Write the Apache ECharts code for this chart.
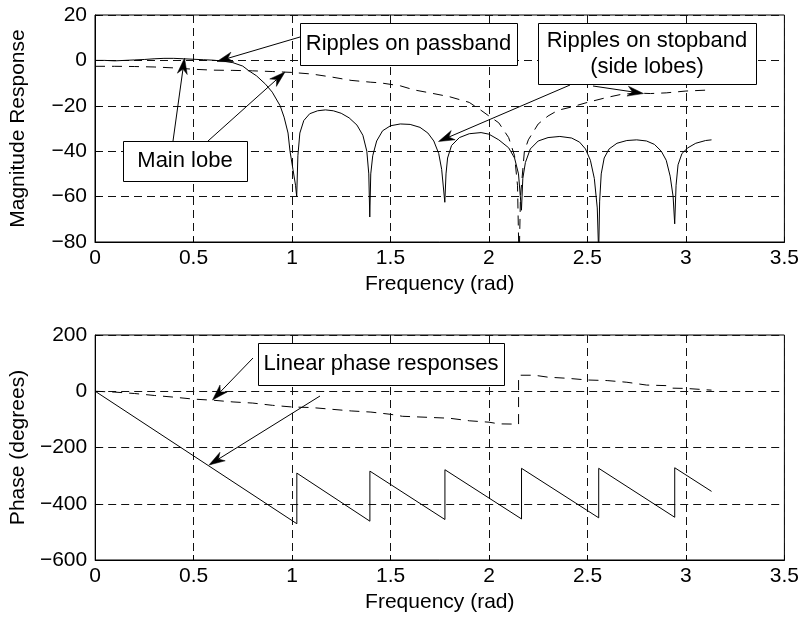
<!doctype html>
<html>
<head>
<meta charset="utf-8">
<title>Magnitude and phase response</title>
<style>
  html, body { margin: 0; padding: 0; background: #fff; }
  #main { width: 802px; height: 619px; }
</style>
</head>
<body>
<div id="main"></div>
<script src="https://cdn.jsdelivr.net/npm/echarts@6/dist/echarts.min.js"></script>
<script>
// values (frequency in rad)
var magSolidFreq = [0, 0.05, 0.1, 0.15, 0.2, 0.25, 0.3, 0.35, 0.4, 0.45, 0.5, 0.55, 0.6, 0.65, 0.7, 0.75, 0.78, 0.82, 0.866, 0.9, 0.94, 0.96, 0.98, 0.99, 1.005, 1.018, 1.024,
  1.03, 1.04, 1.06, 1.09, 1.13, 1.17, 1.21, 1.25, 1.29, 1.33, 1.36, 1.38, 1.39, 1.395,
  1.40, 1.41, 1.43, 1.46, 1.50, 1.55, 1.60, 1.65, 1.69, 1.72, 1.745, 1.76, 1.776,
  1.782, 1.79, 1.81, 1.85, 1.9, 1.96, 2.0, 2.05, 2.1, 2.13, 2.15, 2.165,
  2.172, 2.185, 2.21, 2.25, 2.3, 2.36, 2.42, 2.46, 2.49, 2.515, 2.535, 2.55, 2.557,
  2.562, 2.57, 2.585, 2.61, 2.65, 2.7, 2.75, 2.8, 2.84, 2.875, 2.9, 2.92, 2.935, 2.943,
  2.95, 2.96, 2.98, 3.01, 3.05, 3.1, 3.13];
var magSolid = [0, 0, -0.2, 0, 0.2, 0.4, 0.7, 0.9, 0.9, 0.7, 0.5, 0.3, 0.1, -0.3, -1.0, -2.5, -4.5, -6.8, -10.5, -14, -20, -25, -32, -40, -48, -55, -60,
  -42, -32, -26.5, -23.5, -22.2, -21.8, -22.2, -23.3, -25.3, -28.5, -33, -40, -50, -69,
  -50, -42, -35.5, -31, -28.8, -28, -28.2, -29.5, -32, -35.5, -41, -48, -62.5,
  -50, -43, -37.5, -34, -32.3, -31.8, -32.5, -35, -38.5, -43, -50, -66,
  -52, -45, -39, -35.5, -34, -33.5, -34.2, -36, -39, -44, -52, -65, -85,
  -62, -50, -43, -39, -36.5, -35.3, -35, -35.5, -37, -40, -44, -51, -60, -72,
  -55, -46, -41, -38.5, -36.5, -35.3, -35];

var magDashFreq = [0, 0.1, 0.2, 0.3, 0.4, 0.5, 0.6, 0.7, 0.8, 0.9, 1.0, 1.1, 1.2, 1.3, 1.4, 1.45, 1.55, 1.62, 1.7, 1.8, 1.9, 1.96, 2.0, 2.05, 2.1, 2.13, 2.145, 2.153,
  2.16, 2.18, 2.2, 2.25, 2.3, 2.35, 2.42, 2.5, 2.6, 2.67, 2.75, 2.82, 2.9, 3.0, 3.13];
var magDash = [-2.6, -2.6, -2.7, -2.9, -3.3, -3.9, -4.3, -4.4, -4.6, -4.9, -5.3, -6, -7.3, -8.8, -9.6, -9.9, -11.2, -13, -14.3, -16, -18.5, -22, -24.5, -27.5, -34, -42, -55, -90,
  -60, -40, -35, -28, -24.5, -22, -20.5, -18.5, -16.3, -15, -14.4, -14.6, -14.3, -13.5, -13];

var phaseSolidFreq = [0, 1.024, 1.024, 1.395, 1.395, 1.776, 1.776, 2.165, 2.165, 2.557, 2.557, 2.943, 2.943, 3.13];
var phaseSolid = [0, -471, -291, -462, -284, -456, -279, -454, -274, -450, -274, -448, -272, -356];

var phaseDashFreq = [0, 0.1, 0.2, 0.3, 0.4, 0.5, 0.6, 0.7, 0.8, 0.9, 1.0, 1.1, 1.2, 1.3, 1.4, 1.5, 1.56, 1.7, 1.8, 1.9, 2.0, 2.05, 2.15,
  2.15, 2.23, 2.3, 2.4, 2.5, 2.6, 2.7, 2.8, 2.9, 2.93, 3.0, 3.13];
var phaseDash = [0, -3, -8, -15, -21, -28, -32, -38, -42, -50, -56, -58, -64, -70, -74, -82, -89, -93, -96, -105, -110, -116, -117,
  57, 57, 50, 46, 40, 38, 32, 22, 20, 11, 10, 4];

function pairs(xs, ys) {
  return xs.map(function (x, i) { return [x, ys[i]]; });
}

var font = '"Liberation Sans", Arial, Helvetica, sans-serif';
var txt = { color: '#000', fontFamily: font, fontSize: 21 };
var minus = function (v) { return String(v).replace('-', '\u2212'); };

function xAx(gi) {
  return {
    type: 'value', gridIndex: gi, min: 0, max: 3.5, interval: 0.5,
    name: 'Frequency (rad)', nameLocation: 'middle', nameGap: 32,
    nameTextStyle: txt,
    axisLine: { onZero: false, lineStyle: { color: '#000', width: 1 } },
    axisTick: { inside: true, length: 5, lineStyle: { color: '#000' } },
    axisLabel: Object.assign({ margin: 6, formatter: minus }, txt),
    splitLine: { show: true, lineStyle: { color: '#111', type: [8, 5], width: 1 } }
  };
}
function yAx(gi, min, max, step, name) {
  return {
    type: 'value', gridIndex: gi, min: min, max: max, interval: step,
    name: name, nameLocation: 'middle', nameGap: 66, nameRotate: 90,
    nameTextStyle: txt,
    axisLine: { show: true, onZero: false, lineStyle: { color: '#000', width: 1 } },
    axisTick: { show: true, inside: true, length: 5, lineStyle: { color: '#000' } },
    axisLabel: Object.assign({ margin: 8, formatter: minus }, txt),
    splitLine: { show: true, lineStyle: { color: '#111', type: [8, 5], width: 1 } }
  };
}
function line(xi, data, dashed) {
  return {
    type: 'line', xAxisIndex: xi, yAxisIndex: xi, data: data,
    showSymbol: false, symbol: 'none', silent: true, animation: false,
    lineStyle: { color: '#000', width: 1, type: dashed ? [10, 7] : 'solid' }
  };
}

// annotation boxes and arrows (pixels)
function box(x, y, w, h, lines, lh) {
  var els = [{ type: 'rect', shape: { x: x + 0.5, y: y + 0.5, width: w, height: h },
    style: { fill: '#fff', stroke: '#000', lineWidth: 1 }, z: 100 }];
  var cy = y + h / 2 - (lines.length - 1) * lh / 2;
  lines.forEach(function (t, i) {
    els.push({ type: 'text', z: 101, style: {
      text: t, x: x + w / 2, y: cy + i * lh, fill: '#000',
      font: '22px ' + font, textAlign: 'center', textVerticalAlign: 'middle',
      align: 'center', verticalAlign: 'middle' } });
  });
  return els;
}
function arrow(x1, y1, x2, y2) {
  var dx = x2 - x1, dy = y2 - y1, d = Math.sqrt(dx * dx + dy * dy);
  var ux = dx / d, uy = dy / d, L = 16, W = 5;
  var bx = x2 - ux * L, by = y2 - uy * L;
  var nx = x2 - ux * L * 0.7, ny = y2 - uy * L * 0.7;
  return [
    { type: 'line', z: 100, shape: { x1: x1, y1: y1, x2: nx, y2: ny }, style: { stroke: '#000', lineWidth: 1 } },
    { type: 'polygon', z: 100, shape: { points: [[x2, y2], [bx - uy * W, by + ux * W], [nx, ny], [bx + uy * W, by - ux * W]] },
      style: { fill: '#000', stroke: '#000', lineWidth: 0.5 } }
  ];
}

var graphics = [].concat(
  arrow(300, 37, 217, 61.5),
  arrow(570, 85, 438.5, 141.5),
  arrow(593, 86, 643.5, 93.5),
  arrow(173, 141, 184.5, 58),
  arrow(208, 141, 285, 72),
  arrow(253, 358, 212.5, 400),
  arrow(320, 396, 209, 465),
  box(300, 23, 217, 42, ['Ripples on passband'], 26),
  box(538, 23, 218, 61, ['Ripples on stopband', '(side lobes)'], 26),
  box(123, 141, 124, 40, ['Main lobe'], 26),
  box(258, 343, 246, 42, ['Linear phase responses'], 26)
);

var myChart = echarts.init(document.getElementById('main'), null, { renderer: 'canvas' });

var option = {
  backgroundColor: '#fff',
  animation: false,
  grid: [
    { left: 95, top: 15, width: 694, height: 227, show: true, borderColor: '#000', borderWidth: 1 },
    { left: 95, top: 335, width: 694, height: 225, show: true, borderColor: '#000', borderWidth: 1 }
  ],
  xAxis: [xAx(0), xAx(1)],
  yAxis: [
    yAx(0, -80, 20, 20, 'Magnitude Response'),
    yAx(1, -600, 200, 200, 'Phase (degrees)')
  ],
  series: [
    line(0, pairs(magDashFreq, magDash), true),
    line(0, pairs(magSolidFreq, magSolid), false),
    line(1, pairs(phaseDashFreq, phaseDash), true),
    line(1, pairs(phaseSolidFreq, phaseSolid), false)
  ],
  graphic: graphics
};

myChart.setOption(option);
</script>
</body>
</html>
